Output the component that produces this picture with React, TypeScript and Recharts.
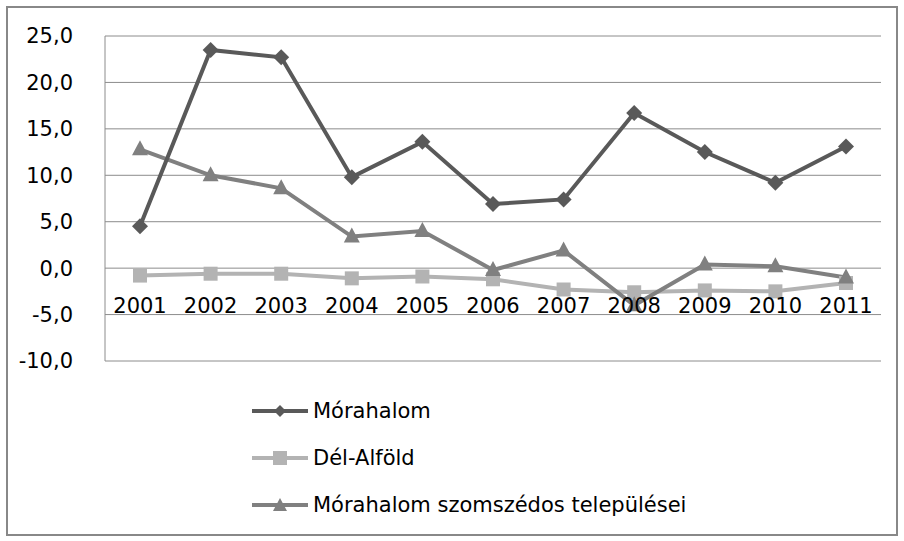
import { LineChart, Line, XAxis, YAxis, CartesianGrid } from "recharts";

const years = ["2001", "2002", "2003", "2004", "2005", "2006", "2007", "2008", "2009", "2010", "2011"];
const morahalom = [4.5, 23.5, 22.7, 9.8, 13.6, 6.9, 7.4, 16.7, 12.5, 9.2, 13.1];
const delAlfold = [-0.8, -0.6, -0.6, -1.1, -0.9, -1.2, -2.3, -2.6, -2.4, -2.5, -1.6];
const szomszedos = [12.8, 10.0, 8.6, 3.4, 4.0, -0.2, 1.9, -4.0, 0.4, 0.2, -1.0];
const yTicks = [-10, -5, 0, 5, 10, 15, 20, 25];

const data = years.map((year, i) => ({
  year,
  mora: morahalom[i],
  del: delAlfold[i],
  szom: szomszedos[i],
}));

const FONT = "'DejaVu Sans', sans-serif";
const C_MORA = "#595959";
const C_DEL = "#b3b3b3";
const C_SZOM = "#808080";

const Diamond = ({ cx, cy }: any) =>
  cx == null ? null : (
    <path d={`M${cx},${cy - 8} L${cx + 8},${cy} L${cx},${cy + 8} L${cx - 8},${cy} Z`} fill={C_MORA} />
  );
const Square = ({ cx, cy }: any) =>
  cx == null ? null : <rect x={cx - 7} y={cy - 7} width={14} height={14} fill={C_DEL} />;
const Triangle = ({ cx, cy }: any) =>
  cx == null ? null : (
    <path d={`M${cx},${cy - 9} L${cx + 8},${cy + 6} L${cx - 8},${cy + 6} Z`} fill={C_SZOM} />
  );

// year labels sit just under the zero line, like Excel's crossing axis
const YearTick = ({ x, y, payload }: any) => (
  <text x={x} y={y - 56} textAnchor="middle" fill="#000" fontSize={21} fontFamily={FONT}>
    {payload.value}
  </text>
);

const legendItems = [
  { name: "Mórahalom", color: C_MORA, shape: "diamond" },
  { name: "Dél-Alföld", color: C_DEL, shape: "square" },
  { name: "Mórahalom szomszédos települései", color: C_SZOM, shape: "triangle" },
];

const LegendIcon = ({ color, shape }: { color: string; shape: string }) => (
  <svg width={56} height={20} style={{ display: "block" }}>
    <line x1={0} y1={10} x2={56} y2={10} stroke={color} strokeWidth={4} />
    {shape === "diamond" && <path d="M28,4 L34,10 L28,16 L22,10 Z" fill={color} />}
    {shape === "square" && <rect x={21} y={3} width={14} height={14} fill={color} />}
    {shape === "triangle" && <path d="M28,3 L35,16 L21,16 Z" fill={color} />}
  </svg>
);

export default function App() {
  return (
    <div
      style={{
        position: "absolute",
        left: 6,
        top: 6,
        width: 892,
        height: 530,
        border: "2px solid #888",
        boxSizing: "border-box",
        background: "#fff",
        fontFamily: FONT,
      }}
    >
      <LineChart
        width={888}
        height={375}
        data={data}
        margin={{ top: 28, right: 15, left: 0, bottom: 17 }}
      >
        <CartesianGrid vertical={false} stroke="#8c8c8c" />
        <XAxis
          dataKey="year"
          axisLine={false}
          tickLine={false}
          height={5}
          tick={<YearTick />}
          interval={0}
          padding={{ left: 35, right: 35 }}
        />
        <YAxis
          width={97}
          domain={[-10, 25]}
          ticks={yTicks}
          interval={0}
          axisLine={{ stroke: "#8c8c8c" }}
          tickLine={false}
          tickMargin={26}
          tick={{ fill: "#000", fontSize: 21, fontFamily: FONT }}
          tickFormatter={(v: number) => v.toFixed(1).replace(".", ",")}
        />
        <Line dataKey="del" stroke={C_DEL} strokeWidth={4} dot={<Square />} isAnimationActive={false} />
        <Line dataKey="szom" stroke={C_SZOM} strokeWidth={4} dot={<Triangle />} isAnimationActive={false} />
        <Line dataKey="mora" stroke={C_MORA} strokeWidth={4} dot={<Diamond />} isAnimationActive={false} />
      </LineChart>
      <div style={{ position: "absolute", left: 244, top: 379 }}>
        {legendItems.map((it) => (
          <div key={it.name} style={{ display: "flex", alignItems: "center", height: 47 }}>
            <LegendIcon color={it.color} shape={it.shape} />
            <span style={{ fontSize: 21, color: "#000", marginLeft: 5, whiteSpace: "nowrap" }}>{it.name}</span>
          </div>
        ))}
      </div>
    </div>
  );
}
